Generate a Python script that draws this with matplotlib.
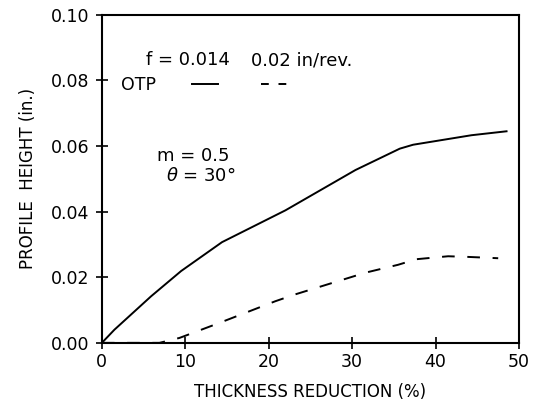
import matplotlib
matplotlib.use("Agg")
import matplotlib.pyplot as plt

# thickness reduction (%) vs profile height (in.)
x_f014 = [0, 1.5, 5.9, 9.5, 14.4, 22.0, 30.4, 35.7, 37.3, 44.3, 48.5]
y_f014 = [0, 0.004, 0.0142, 0.0219, 0.0307, 0.0404, 0.0527, 0.0592, 0.0604, 0.0633, 0.0645]

x_f02 = [0, 6.9, 9.3, 14.0, 20.8, 23.2, 31.6, 35.5, 37.7, 41.5, 43.9, 47.5]
y_f02 = [0, 0, 0.0015, 0.006, 0.0127, 0.0148, 0.0214, 0.0238, 0.0255, 0.0264, 0.0262, 0.0258]

xticks = [0, 10, 20, 30, 40, 50]
yticks = [0.00, 0.02, 0.04, 0.06, 0.08, 0.10]

plt.rcParams['font.family'] = 'DejaVu Sans'
fig = plt.figure(figsize=(5.39, 4.01), dpi=100)
ax = fig.add_axes([0.189, 0.145, 0.774, 0.818])

ax.plot(x_f014, y_f014, color='black', lw=1.4)
ax.plot(x_f02, y_f02, color='black', lw=1.4, dashes=(6.5, 6.5), zorder=3, clip_on=False)

# legend drawn by hand like the original
ax.text(5.3, 0.0862, 'f = 0.014', fontsize=13, va='center')
ax.text(17.9, 0.0862, '0.02 in/rev.', fontsize=13, va='center')
ax.text(2.3, 0.0785, 'OTP', fontsize=12.5, va='center')
ax.plot([10.8, 13.9], [0.0788, 0.0788], color='black', lw=1.4)
ax.plot([19.1, 22.4], [0.0788, 0.0788], color='black', lw=1.4, dashes=(4, 5))
ax.text(6.6, 0.057, 'm = 0.5', fontsize=13, va='center')
ax.text(7.7, 0.0508, r'$\theta$ = 30°', fontsize=13, va='center')

ax.set_xlim(0, 50)
ax.set_ylim(0, 0.10)
ax.set_xticks(xticks)
ax.set_yticks(yticks)
ax.set_yticklabels(['%.2f' % v for v in yticks])
ax.tick_params(direction='inout', length=8, width=1.2, labelsize=12.5)
ax.tick_params(axis='x', pad=3)
ax.tick_params(axis='y', pad=5)
for s in ax.spines.values():
    s.set_linewidth(1.5)

ax.set_xlabel('THICKNESS REDUCTION (%)', fontsize=12, labelpad=9)
ax.set_ylabel('PROFILE  HEIGHT (in.)', fontsize=12, labelpad=10)

plt.savefig('out.png', dpi=100)
